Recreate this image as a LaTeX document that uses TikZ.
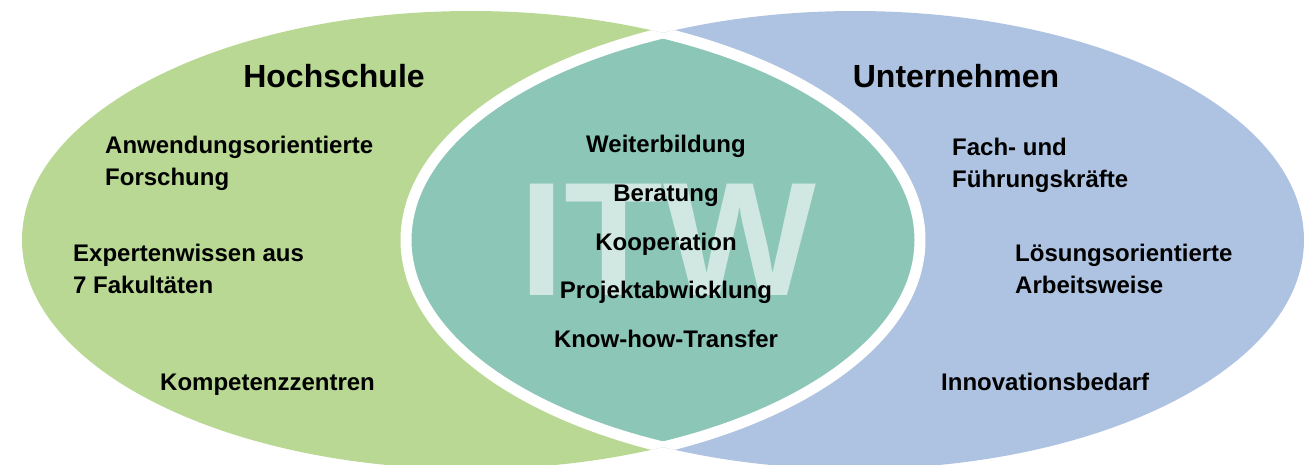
\documentclass[tikz,border=0pt]{standalone}
\usepackage{fontspec}
\setmainfont{Liberation Sans}
\definecolor{hsgreen}{RGB}{184,216,148}
\definecolor{ubblue}{RGB}{174,195,225}
\definecolor{itwteal}{RGB}{139,198,182}
\begin{document}
\begin{tikzpicture}[x=1pt,y=-1pt,
  heading/.style={font=\fontsize{32}{38}\selectfont\bfseries, inner sep=0pt},
  item/.style={font=\fontsize{24}{32}\selectfont\bfseries, inner sep=0pt, align=left},
  centeritem/.style={font=\fontsize{24}{32}\selectfont\bfseries, inner sep=0pt},
  lensborder/.style={draw=white, line width=11pt}]
\useasboundingbox (0,0) rectangle (1310,464);

% ellipse centres
\coordinate (hs) at (471,240);
\coordinate (ub) at (855,240);

% the two sets
\fill[hsgreen] (hs) ellipse [x radius=449, y radius=229];
\fill[ubblue] (ub) ellipse [x radius=449, y radius=229];

% overlap: teal lens with white outline
\begin{scope}
  \clip (hs) ellipse [x radius=449, y radius=229];
  \fill[itwteal] (ub) ellipse [x radius=449, y radius=229];
  \draw[lensborder] (ub) ellipse [x radius=449, y radius=229];
\end{scope}
\begin{scope}
  \clip (ub) ellipse [x radius=449, y radius=229];
  \draw[lensborder] (hs) ellipse [x radius=449, y radius=229];
\end{scope}

% watermark
\node[font=\fontsize{162}{162}\selectfont\bfseries, text=white, text opacity=0.6,
      inner sep=0pt, anchor=base] (itw) at (668,295) {ITW};

% headings
\node[heading, anchor=base] (hochschule) at (334,87) {Hochschule};
\node[heading, anchor=base] (unternehmen) at (956,87) {Unternehmen};

% university side (anchor = baseline of the last line)
\node[item, anchor=base west] (forschung) at (105,185) {Anwendungsorientierte\\Forschung};
\node[item, anchor=base west] (experten) at (73,293) {Expertenwissen aus\\7 Fakultäten};
\node[item, anchor=base west] (kompetenz) at (160,390) {Kompetenzzentren};

% company side
\node[item, anchor=base west] (fach) at (952,187) {Fach- und\\Führungskräfte};
\node[item, anchor=base west] (loesung) at (1015,293) {Lösungsorientierte\\Arbeitsweise};
\node[item, anchor=base west] (innovation) at (941,390) {Innovationsbedarf};

% shared topics
\node[centeritem, anchor=base] (weiter) at (666,152) {Weiterbildung};
\node[centeritem, anchor=base] (beratung) at (666,201) {Beratung};
\node[centeritem, anchor=base] (koop) at (666,250) {Kooperation};
\node[centeritem, anchor=base] (projekt) at (666,298) {Projektabwicklung};
\node[centeritem, anchor=base] (transfer) at (666,347) {Know-how-Transfer};
\end{tikzpicture}
\end{document}
